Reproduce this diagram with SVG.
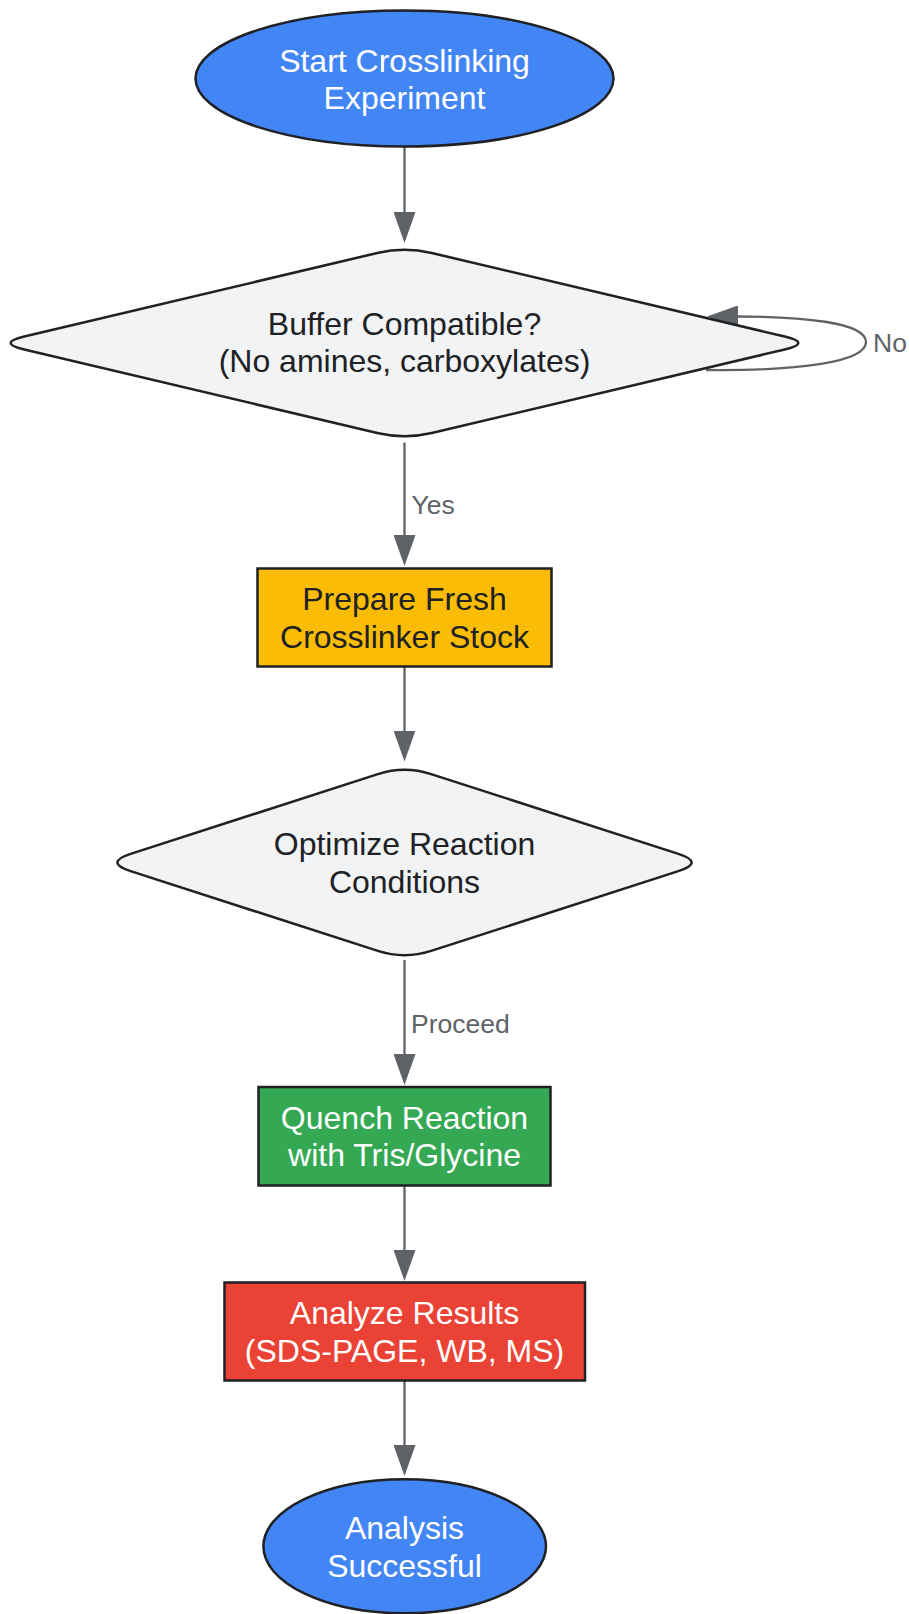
<svg xmlns="http://www.w3.org/2000/svg" width="909" height="1614" viewBox="0 0 909 1614">
<style>
.node{stroke:#202124;stroke-width:2.5}
.t{font-family:"Liberation Sans",Arial,sans-serif;font-size:32px;text-anchor:middle}
.w{fill:#ffffff}
.d{fill:#202124}
.edge{fill:none;stroke:#5f6368;stroke-width:2.3}
.lbl{font-family:"Liberation Sans",Arial,sans-serif;font-size:26.5px;fill:#5f6368}
</style>
<defs>
<marker id="arr" viewBox="0 0 31 22" refX="1" refY="11" markerWidth="31" markerHeight="22" markerUnits="userSpaceOnUse" orient="auto">
<path d="M0,0 L31,11 L0,22 Z" fill="#5f6368"/>
</marker>
</defs>
<rect width="909" height="1614" fill="#ffffff"/>
<g id="connectors">
<path class="edge" d="M404.5,147 L404.5,213" marker-end="url(#arr)"/>
<path class="edge" d="M404.5,442.5 L404.5,536" marker-end="url(#arr)"/>
<path class="edge" d="M404.5,667 L404.5,731.5" marker-end="url(#arr)"/>
<path class="edge" d="M404.5,960 L404.5,1055" marker-end="url(#arr)"/>
<path class="edge" d="M404.5,1186 L404.5,1251" marker-end="url(#arr)"/>
<path class="edge" d="M404.5,1381 L404.5,1446" marker-end="url(#arr)"/>
<path class="edge" d="M706,370 C800,371 866,362 866,342 C866,322 800,316.5 737,316.5" marker-end="url(#arr)"/>
<text class="lbl" x="411.5" y="514">Yes</text>
<text class="lbl" x="411" y="1033">Proceed</text>
<text class="lbl" x="873" y="352">No</text>
</g>
<g id="start">
<ellipse class="node" cx="404.5" cy="78.5" rx="209" ry="68" fill="#4285f4"/>
<text class="t w" x="404.5" y="71.5">Start Crosslinking</text>
<text class="t w" x="404.5" y="109">Experiment</text>
</g>
<g id="buffer">
<path class="node" fill="#f1f3f4" d="M377.25,252.95 Q404.5,246.5 431.75,252.95 L784.75,336.55 Q812,343 784.75,349.45 L431.75,433.05 Q404.5,439.5 377.25,433.05 L24.25,349.45 Q-3,343 24.25,336.55 Z"/>
<text class="t d" x="404.5" y="335">Buffer Compatible?</text>
<text class="t d" x="404.5" y="372">(No amines, carboxylates)</text>
</g>
<g id="prepare">
<rect class="node" x="257.5" y="568.5" width="294" height="98" fill="#fbbc04"/>
<text class="t d" x="404.5" y="610">Prepare Fresh</text>
<text class="t d" x="404.5" y="647.5">Crosslinker Stock</text>
</g>
<g id="optimize">
<path class="node" fill="#f1f3f4" d="M377.86,774.1 Q404.5,765.5 431.14,774.1 L678.36,853.9 Q705,862.5 678.36,871.1 L431.14,950.9 Q404.5,959.5 377.86,950.9 L130.64,871.1 Q104,862.5 130.64,853.9 Z"/>
<text class="t d" x="404.5" y="855">Optimize Reaction</text>
<text class="t d" x="404.5" y="892.5">Conditions</text>
</g>
<g id="quench">
<rect class="node" x="258.5" y="1087" width="292" height="98.5" fill="#34a853"/>
<text class="t w" x="404.5" y="1128.5">Quench Reaction</text>
<text class="t w" x="404.5" y="1166">with Tris/Glycine</text>
</g>
<g id="analyze">
<rect class="node" x="224.5" y="1282.5" width="360.5" height="98" fill="#ea4335"/>
<text class="t w" x="404.5" y="1324">Analyze Results</text>
<text class="t w" x="404.5" y="1361.5">(SDS-PAGE, WB, MS)</text>
</g>
<g id="end">
<ellipse class="node" cx="404.7" cy="1546.3" rx="141.3" ry="67" fill="#4285f4"/>
<text class="t w" x="404.5" y="1539">Analysis</text>
<text class="t w" x="404.5" y="1576.5">Successful</text>
</g>
</svg>
